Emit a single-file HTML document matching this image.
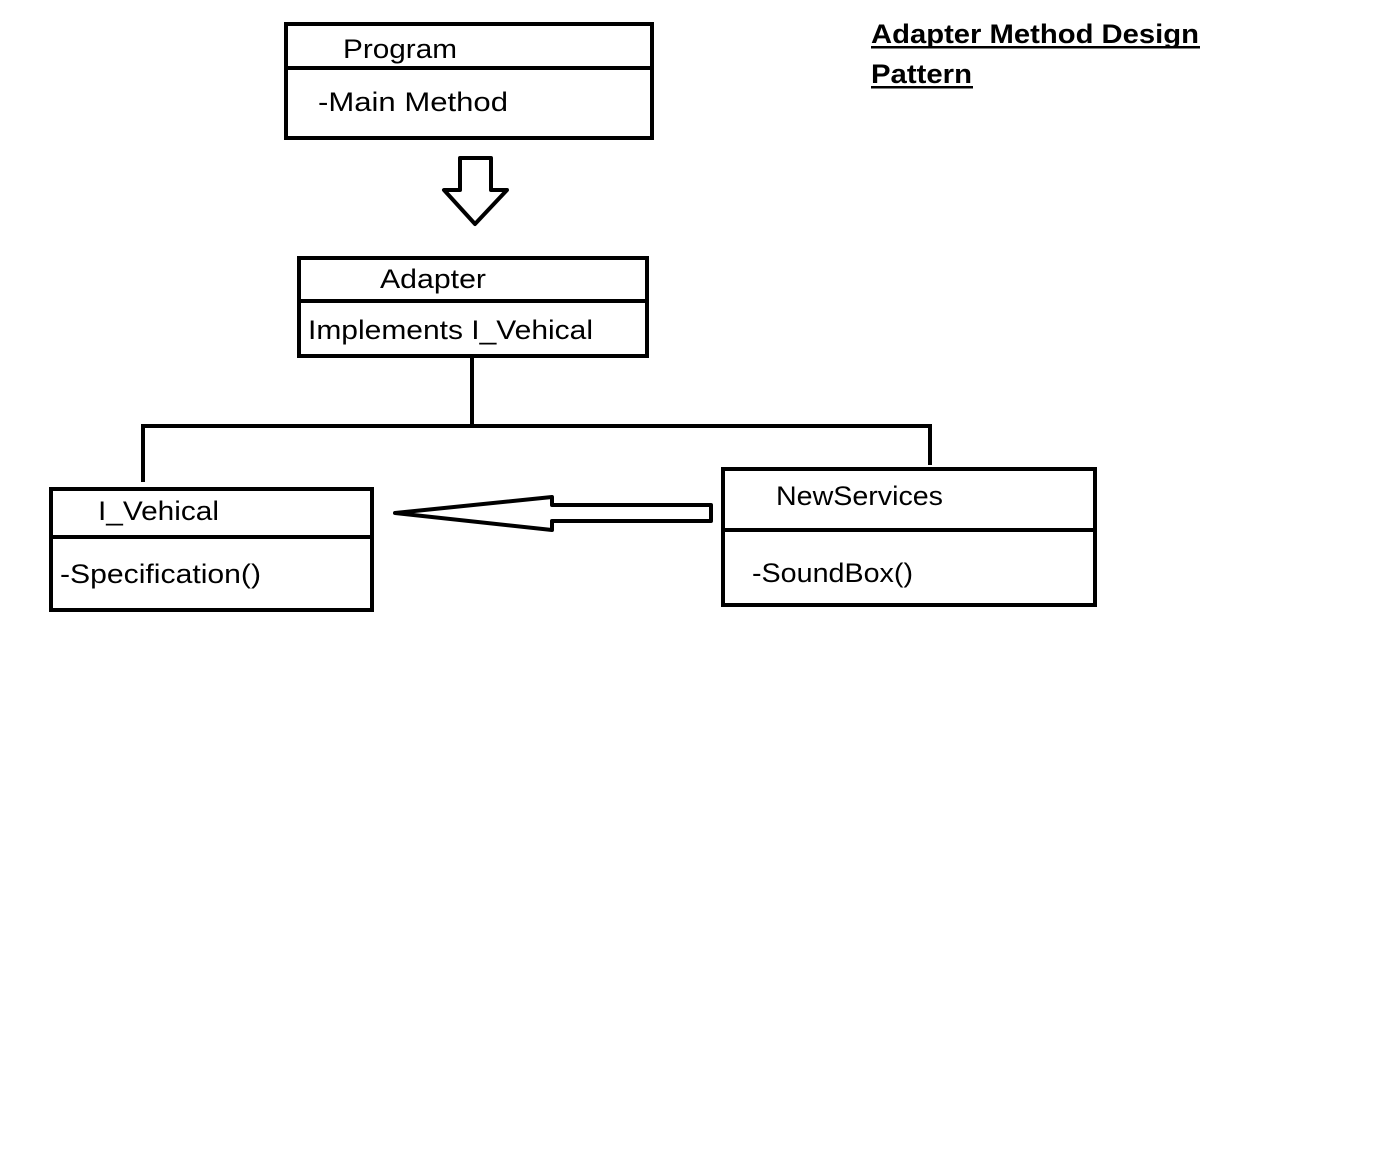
<!DOCTYPE html>
<html><head><style>body{margin:0;background:#fff}svg{display:block}</style></head><body>
<svg width="1395" height="1175" xmlns="http://www.w3.org/2000/svg" font-family="Liberation Sans, sans-serif" font-size="27">
<g fill="none" stroke="#000" stroke-width="4">
<rect x="286" y="24" width="366" height="114"/>
<line x1="286" y1="68" x2="654" y2="68"/>
<rect x="299" y="258" width="348" height="98"/>
<line x1="299" y1="301" x2="647" y2="301"/>
<rect x="51" y="489" width="321" height="121"/>
<line x1="51" y1="537" x2="372" y2="537"/>
<rect x="723" y="469" width="372" height="136"/>
<line x1="723" y1="530" x2="1095" y2="530"/>
<polyline points="472,358 472,426"/>
<polyline points="143,482 143,426 930,426 930,465"/>
<polygon points="460,158 491,158 491,190 507,190 475,224 444,190 460,190" stroke-linejoin="round"/>
<polygon points="395,513 552,497 552,505 711,505 711,521 552,521 552,530" stroke-linejoin="round"/>
</g>
<g fill="#000">
<text x="343" y="58" textLength="114" lengthAdjust="spacingAndGlyphs">Program</text>
<text x="318" y="111" textLength="190" lengthAdjust="spacingAndGlyphs">-Main Method</text>
<text x="380" y="288" textLength="106" lengthAdjust="spacingAndGlyphs">Adapter</text>
<text x="308" y="339" textLength="285" lengthAdjust="spacingAndGlyphs">Implements I_Vehical</text>
<text x="98" y="520" textLength="121" lengthAdjust="spacingAndGlyphs">I_Vehical</text>
<text x="60" y="583" textLength="201" lengthAdjust="spacingAndGlyphs">-Specification()</text>
<text x="776" y="505" textLength="167" lengthAdjust="spacingAndGlyphs">NewServices</text>
<text x="752" y="582" textLength="161" lengthAdjust="spacingAndGlyphs">-SoundBox()</text>
<text x="871" y="43" font-weight="bold" textLength="328" lengthAdjust="spacingAndGlyphs">Adapter Method Design</text>
<text x="871" y="83" font-weight="bold" textLength="101" lengthAdjust="spacingAndGlyphs">Pattern</text>
<rect x="871" y="46" width="329" height="2.5"/>
<rect x="871" y="86" width="102" height="2.5"/>
</g>
</svg>
</body></html>
